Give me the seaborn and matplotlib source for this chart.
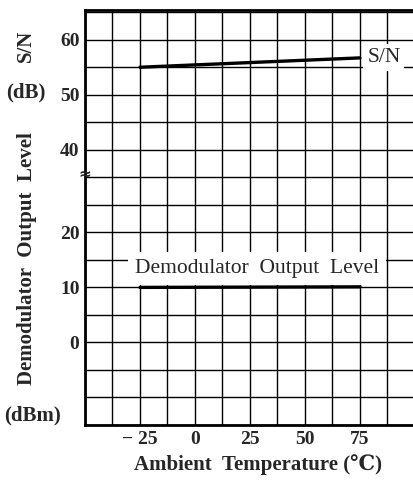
import matplotlib
matplotlib.use("Agg")
import matplotlib.pyplot as plt
import numpy as np
import pandas as pd
import seaborn as sns

# == DATA ==
temps = [-25, 75]
sn_db = [55.0, 56.7]
demod_dbm = [10.0, 10.1]

x_grid = np.arange(-50, 100, 12.5)
x_tick_vals = [-25, 0, 25, 50, 75]
x_tick_labels = ["\u2212 25", "0", "25", "50", "75"]

# upper (dB) part is drawn shifted down by 5 so that the axis break sits at 30 dBm / 35 dB
db_offset = 5
y_tick_vals_dbm = [0, 10, 20]
y_tick_vals_db = [40, 50, 60]

sns.set_style("white")
plt.rcParams["font.family"] = ["Liberation Serif", "DejaVu Serif"]

fig = plt.figure(figsize=(4.14, 4.82), dpi=100)
ax = fig.add_axes([85 / 414, 57 / 482, 329 / 414, 415 / 482])

df = pd.DataFrame({
    "temp": temps + temps,
    "value": [v - db_offset for v in sn_db] + demod_dbm,
    "series": ["S/N"] * len(temps) + ["Demodulator Output Level"] * len(temps),
})
sns.lineplot(data=df, x="temp", y="value", units="series", estimator=None,
             color="black", linewidth=2.4, ax=ax, legend=False, zorder=3)

ax.set_xlim(-50, 99.6)
ax.set_ylim(-15, 60.4)

# grid
for gx in x_grid:
    ax.axvline(gx, color="black", linewidth=1.0, zorder=1)
for gy in np.arange(-15, 61, 5):
    ax.axhline(gy, color="black", linewidth=1.0, zorder=1)

ax.set_xticks(x_tick_vals)
ax.set_xticklabels(x_tick_labels, fontsize=14, fontweight="bold")
yticks = y_tick_vals_dbm + [v - db_offset for v in y_tick_vals_db]
ax.set_yticks(yticks)
ax.set_yticklabels([str(v) for v in y_tick_vals_dbm + y_tick_vals_db],
                   fontsize=14, fontweight="bold")
ax.tick_params(axis="x", length=0, pad=4)
ax.tick_params(axis="y", length=4, width=1.0, pad=0, direction="out")

for s in ["left", "top", "bottom"]:
    ax.spines[s].set_linewidth(2.0)
    ax.spines[s].set_color("black")
ax.spines["right"].set_visible(False)

# axis break mark
ax.text(-50, 30.6, "\u2248", rotation=0, fontsize=11, fontweight="bold",
        ha="center", va="center", family="DejaVu Sans", clip_on=False, zorder=5)

# in-plot labels
ax.text(78.3, sn_db[-1] - db_offset + 0.1, "S/N", fontsize=15.5, ha="left", va="center",
        bbox=dict(facecolor="white", edgecolor="none", pad=3), zorder=4)
ax.text(28.2, 13.5, "Demodulator  Output  Level", fontsize=15.5, ha="center", va="center",
        bbox=dict(facecolor="white", edgecolor="none", pad=5), zorder=4)

# axis labels
ax.set_xlabel("")
ax.set_ylabel("")
fig.text(258 / 414, 1 - 465 / 482, "Ambient  Temperature (\u2103)", fontsize=15,
         fontweight="bold", ha="center", va="center")
fig.text(26 / 414, 1 - 46 / 482, "S/N", rotation=90, fontsize=15, fontweight="bold",
         ha="center", va="center")
fig.text(26 / 414, 1 - 92 / 482, "(dB)", fontsize=15, fontweight="bold",
         ha="center", va="center")
fig.text(27 / 414, 1 - 259 / 482, "Demodulator  Output  Level", rotation=90, fontsize=15,
         fontweight="bold", ha="center", va="center")
fig.text(33 / 414, 1 - 415 / 482, "(dBm)", fontsize=15, fontweight="bold",
         ha="center", va="center")

fig.savefig("out.png", dpi=100)
